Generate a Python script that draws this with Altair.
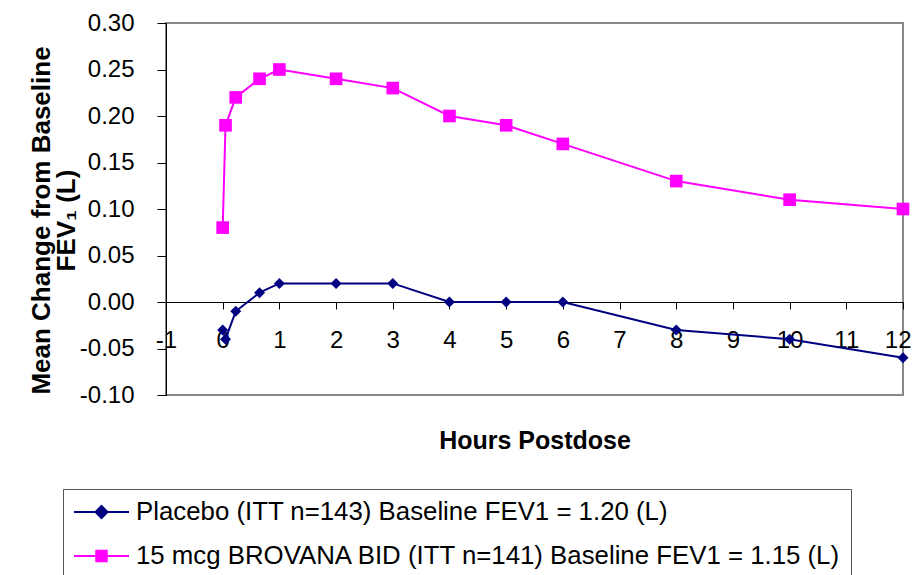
import altair as alt
import pandas as pd

hours = [0, 0.05, 0.23, 0.65, 1, 2, 3, 4, 5, 6, 8, 10, 12]
placebo = [-0.03, -0.04, -0.01, 0.01, 0.02, 0.02, 0.02, 0.00, 0.00, 0.00, -0.03, -0.04, -0.06]
brovana = [0.08, 0.19, 0.22, 0.24, 0.25, 0.24, 0.23, 0.20, 0.19, 0.17, 0.13, 0.11, 0.10]
series_names = [
    "Placebo (ITT n=143) Baseline FEV1 = 1.20 (L)",
    "15 mcg BROVANA BID (ITT n=141) Baseline FEV1 = 1.15 (L)",
]
series_colors = ["#000080", "#FF00FF"]
x_ticks = list(range(-1, 13))
y_ticks = [-0.10, -0.05, 0.00, 0.05, 0.10, 0.15, 0.20, 0.25, 0.30]

rows = []
for h, v in zip(hours, placebo):
    rows.append({"hours": h, "value": v, "series": series_names[0]})
for h, v in zip(hours, brovana):
    rows.append({"hours": h, "value": v, "series": series_names[1]})
df = pd.DataFrame(rows)

FONT = "Liberation Sans"

x_enc = alt.X(
    "hours:Q",
    scale=alt.Scale(domain=[-1, 12], nice=False, zero=False),
    axis=alt.Axis(
        values=x_ticks,
        labelExpr="replace(format(datum.value, 'd'), '\u2212', '-')",
        offset=-93,
        grid=False,
        domainColor="#000000",
        tickColor="#000000",
        tickSize=7,
        labelFontSize=24,
        labelFont=FONT,
        labelColor="#000000",
        labelBaseline="middle",
        labelPadding=31,
        labelAlign={"condition": {"test": "datum.value == 12", "value": "right"}, "value": "center"},
        labelOffset={"condition": {"test": "datum.value == 12", "value": 8}, "value": 0},
        labelFlush=False,
        labelOverlap=False,
        title="Hours Postdose",
        titleFont=FONT,
        titleFontSize=25,
        titleFontWeight="bold",
        titleColor="#000000",
        titleBaseline="middle",
        titleY=138,
    ),
)
y_enc = alt.Y(
    "value:Q",
    scale=alt.Scale(domain=[-0.10, 0.30], nice=False, zero=False),
    axis=alt.Axis(
        values=y_ticks,
        labelExpr="replace(format(datum.value, '.2f'), '\u2212', '-')",
        grid=False,
        domainColor="#000000",
        tickColor="#000000",
        tickSize=9,
        labelFontSize=24,
        labelFont=FONT,
        labelColor="#000000",
        labelPadding=23,
        title=["Mean Change from Baseline", "FEV\u2081 (L)"],
        titleFont=FONT,
        titleFontSize=26,
        titleFontWeight="bold",
        titleColor="#000000",
        titleAngle=-90,
        titleAlign="center",
        titleBaseline="middle",
        titleLineHeight=25,
        titleX=-125,
        titleY=197,
    ),
)

base = alt.Chart(df)
layers = []
shapes = ["diamond", "square"]
sizes = [121, 160]
for name, col, shp, sz in zip(series_names, series_colors, shapes, sizes):
    sub = base.transform_filter(alt.datum.series == name)
    layers.append(
        sub.mark_line(color=col, strokeWidth=2).encode(x=x_enc, y=y_enc)
    )
    layers.append(
        sub.mark_point(shape=shp, size=sz, filled=True, color=col, opacity=1).encode(
            x=x_enc, y=y_enc
        )
    )

legend_paths = [
    "M-1,0L1,0M0,-0.22L0.22,0L0,0.22L-0.22,0Z",
    "M-1,0L1,0M-0.19,-0.19L0.19,-0.19L0.19,0.19L-0.19,0.19Z",
]
leg = alt.Legend(
    title=None,
    orient="none",
    legendX=-103,
    legendY=466,
    direction="vertical",
    symbolSize=3025,
    symbolStrokeWidth=2,
    symbolOpacity=1,
    labelFont=FONT,
    labelFontSize=25.8,
    labelColor="#000000",
    labelLimit=2000,
    labelOffset=6,
    clipHeight=26,
    rowPadding=18,
    padding=10,
    strokeColor="#555555",
    fillColor="#ffffff",
)
legend_layer = (
    base.transform_filter("false")
    .mark_point(filled=True, strokeWidth=2, opacity=1)
    .encode(
        x=x_enc,
        y=y_enc,
        fill=alt.Fill("series:N", scale=alt.Scale(domain=series_names, range=series_colors), legend=leg),
        stroke=alt.Stroke("series:N", scale=alt.Scale(domain=series_names, range=series_colors), legend=leg),
        shape=alt.Shape("series:N", scale=alt.Scale(domain=series_names, range=legend_paths), legend=leg),
    )
)
layers.append(legend_layer)

chart = (
    alt.layer(*layers)
    .properties(
        width=737,
        height=372,
        autosize=alt.AutoSizeParams(type="none"),
        padding={"left": 158, "top": 15, "right": 8, "bottom": 180},
        background="#ffffff",
    )
    .configure_view(stroke="#888888", strokeWidth=2)
)

chart.save("out.html", embed_options={"renderer": "svg", "actions": False})
